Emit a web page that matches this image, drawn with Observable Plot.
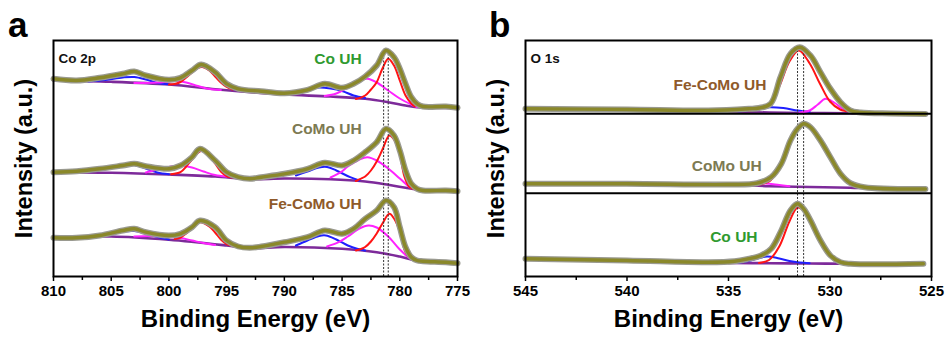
<!DOCTYPE html>
<html><head><meta charset="utf-8">
<script src="https://cdn.jsdelivr.net/npm/d3@7"></script>
<script src="https://cdn.jsdelivr.net/npm/@observablehq/plot@0.6"></script>
<style>
body{margin:0;background:#fff;font-family:"Liberation Sans",Arial,sans-serif;}
#wrap{position:relative;width:947px;height:338px;overflow:hidden;}
.pl{position:absolute;top:0;}
.tag{position:absolute;font-weight:bold;font-size:35px;line-height:35px;color:#000;}
</style></head>
<body><div id="wrap"></div>
<script>
// ---------- Panel a: Co 2p (binding energy eV, intensity a.u.) ----------
const coTicksA = [810, 805, 800, 795, 790, 785, 780, 775];
const coMinorA = [807.5, 802.5, 797.5, 792.5, 787.5, 782.5, 777.5];
const coRefLines = [781.4, 781.0];
// Co UH (top)
const aCo_env = [[810,197.7],[808,196],[806,198.7],[804,202.7],[803,205],[802,201],[800,196.7],[799,198.7],[798,206],[797.2,212],[796,204.3],[795,192.7],[794,187.7],[792,185.3],[790,183.3],[788,186.7],[786.5,192.7],[785,188.7],[784,192.7],[783,200],[782,211],[781.2,226],[780.5,219.3],[780,207.7],[779.5,192.7],[779,179.3],[778.5,172.7],[778,170],[776,170],[775,168.7]];
const aCo_base = [[810,196],[805,194.7],[800,192],[796,187.3],[794,185.3],[790,182],[786,180],[783,177.7],[781,174.3],[779.5,171],[778.5,169.3],[775,168.7]];
const aCo_red = [[783.8,177.5],[783,181],[782.5,187],[782,194.3],[781.5,208],[781,217.7],[780.5,211],[780,196],[779.5,181],[779,173],[778.7,170]];
const aCo_mag = [[786.5,180.5],[785.5,183],[784.5,189],[783.5,196],[782.8,197.7],[782,194],[781,186],[780,178],[779,172],[778.5,169.5]];
const aCo_blue = [[790,182.5],[789,184],[788,187],[787,189],[786,188],[785,185.5],[784,181],[783,178.5]];
const aCo_red2 = [[800,192],[799.5,192.5],[799,194.5],[798.5,199],[798,204],[797.5,208.5],[797.1,209.5],[796.5,206],[796,200],[795.5,194],[795,189.5],[794.5,187]];
const aCo_mag2 = [[803,193.5],[801,194],[800,195],[799.3,195.5],[798.5,194],[797.5,190.5],[796.5,187.5],[795.5,186.5]];
const aCo_blue2 = [[807,195],[805.5,196.5],[804,199],[803,199.5],[802,197],[801,193.5],[800,192.3]];
// CoMo UH (middle)
const aCoMo_env = [[810,104.3],[808,105.3],[806,107.7],[804,111],[803,112.7],[802,110.3],[800,107.7],[799,111],[798,119.3],[797.3,127.7],[796,116],[795,104.3],[794,99.3],[793,97.7],[792,99.3],[790,102.7],[788,107.7],[786.5,113.7],[785,111],[784,116],[783,124.3],[782,134.3],[781.2,147.7],[780.5,141],[780,126],[779.5,106],[779,92.7],[778.5,87.7],[778,86],[776,86],[775,85.3]];
const aCoMo_base = [[810,104.3],[805,103.7],[800,102],[796,100],[793,97.3],[790,98],[786,97.3],[783,95],[781,91.7],[779.5,88.7],[778.5,87],[775,85.5]];
const aCoMo_red = [[783.8,95.5],[783.4,97.7],[783,100],[782.5,106],[782,115],[781.5,127],[780.9,141],[780.5,137],[780,122],[779.6,100],[779.2,90],[778.8,87.5]];
const aCoMo_mag = [[786,99],[785.1,104.3],[784.5,110],[783.5,117],[782.8,119.3],[782,116],[781,108],[780,98],[779.1,89],[778.6,87]];
const aCoMo_blue = [[789,101],[788,105],[787,109],[786.3,109.5],[785.5,106],[784.3,99.3],[783.5,96]];
const aCoMo_red2 = [[799.8,102.3],[799,104.3],[798.5,110],[798,117],[797.5,123.5],[797.1,126],[796.5,121],[796,113],[795.5,105],[795,100.5],[794.5,99]];
const aCoMo_mag2 = [[802,104],[801,107],[800,109.5],[799,111],[798,109],[797,105],[796,101.5],[795,100]];
const aCoMo_blue2 = [[807,104.5],[805.5,107.5],[804,111],[803,111.5],[802,108],[801,104],[800,102.3]];
// Fe-CoMo UH (bottom)
const aFe_env = [[810,38.7],[808,38.7],[806,41],[804,46],[803,47.7],[802,44.3],[800,41],[799,42.7],[798,49.3],[797.3,56],[796,49.3],[795,36],[794,30],[793,28.7],[792,30],[790,34.3],[788,39.3],[786.5,46],[785,42.7],[784,47.7],[783,57.7],[782,66],[781.2,76],[780.5,69.3],[780,49.3],[779.5,29.3],[779,19.3],[778.5,16],[778,15.3],[776,14.3],[775,13.3]];
const aFe_base = [[810,38.7],[805,40],[800,36.7],[795,31],[793,28.3],[790,29.5],[785,27.7],[782,24.3],[780,20],[778.5,16],[775,13.7]];
const aFe_red = [[783.8,26],[783.3,27.7],[783,29.5],[782.5,35],[782,43],[781.5,53],[780.9,62.7],[780.5,58],[780,45],[779.6,27],[779.2,19.5],[778.8,17]];
const aFe_mag = [[786.3,30],[785.3,34.3],[784.5,40],[783.5,48],[782.7,51],[782,49],[781,40],[780,27],[779.1,18],[778.6,16.2]];
const aFe_blue = [[789,31],[788,36],[787,40.5],[786.4,41],[785.5,37],[784.5,31],[783.7,27.7],[783,26]];
const aFe_red2 = [[799.5,37.5],[799,39],[798.5,43],[798,48.5],[797.3,54.3],[796.5,50],[796,44],[795.5,37],[795,32.5],[794.5,31]];
const aFe_mag2 = [[803,40],[801.5,40.5],[800,39.5],[799,38.5],[798,36],[797,33.5],[796,31.5]];
const aFe_blue2 = [[806.5,41],[805,43],[804,45],[803,45.5],[802,43],[801,39.5],[800,37]];
const aLabels = [{x:783.3,y:217,t:"Co UH",c:"#2f9a2f"},{x:783.3,y:147,t:"CoMo UH",c:"#7d7a52"},{x:783.3,y:72,t:"Fe-CoMo UH",c:"#8f5a2a"}];

// ---------- Panel b: O 1s ----------
const oTicksB = [545, 540, 535, 530, 525];
const oMinorB = [542.5, 537.5, 532.5, 527.5];
const oDividers = [83.3, 162.7];
const oRefLines = [531.6, 531.3];
// Fe-CoMo UH (top)
const bFe_env = [[545,167.7],[540,167],[536,166],[534,167.7],[533.5,168.5],[532.93,172.7],[532.44,199.3],[531.95,222.7],[531.49,229.3],[530.96,221],[530.47,204.3],[529.98,187.7],[529.48,174.3],[528.99,166],[528.5,164],[527,163],[525.3,162.5]];
const bFe_base = [[535,164.5],[533,164],[531,163.5],[529,163.2],[528.5,163]];
const bFe_red = [[534,166],[533.5,167.5],[533,171],[532.5,190],[532,215],[531.54,226],[531,213],[530.5,193],[530,175],[529.5,167],[529,165]];
const bFe_mag = [[531.5,164],[531,166],[530.6,172],[530.22,177.7],[529.8,174],[529.4,168],[529,164.5],[528.6,163.5]];
const bFe_blue = [[534.5,165],[533.8,167],[533,169.3],[532.3,168.5],[531.6,166],[531,164.5]];
// CoMo UH (middle)
const bCoMo_env = [[545,92.7],[540,92.7],[535,92],[533.6,93.3],[532.9,99.3],[532.4,112.7],[531.95,136],[531.6,147.7],[531.3,152.7],[530.96,149.3],[530.47,136],[529.98,119.3],[529.48,102.7],[528.99,93.3],[528.3,89.3],[525.3,87.5]];
const bCoMo_base = [[534.5,91.5],[533,90.3],[531,89.5],[529,88.7],[528.3,88.5]];
const bCoMo_red = [[533.5,92],[533,95],[532.5,109],[532,133],[531.5,149],[531.3,151.5],[531,149],[530.5,136],[530,119],[529.5,103],[529,93.5],[528.5,89]];
const bCoMo_mag = [[534,91.8],[533.2,93],[532.5,91.5],[532,90.3]];
// Co UH (bottom)
const bCo_env = [[545,17.7],[540,16],[536,14.3],[534.7,15.3],[534.1,17.3],[533.4,21],[532.9,27.7],[532.4,46],[531.95,66],[531.6,72.7],[531.3,67.7],[530.96,56],[530.47,36],[529.98,21],[529.48,14.3],[528.99,12.7],[525.4,12.7]];
const bCo_base = [[535,13.5],[533,13.3],[531,13],[529,12.7]];
const bCo_red = [[533.5,13.5],[533,16.5],[532.5,30],[532,55],[531.6,69],[531.3,66],[531,56],[530.5,35],[530,20],[529.6,14],[529.3,12.8]];
const bCo_blue = [[534.6,13.5],[534,15.5],[533.1,20],[532.5,18],[532,15.5],[531.5,14],[531,13.3]];
const bLabels = [{x:533.13,y:191,t:"Fe-CoMo UH",c:"#8f5a2a"},{x:533.37,y:110,t:"CoMo UH",c:"#7d7a52"},{x:533.57,y:39,t:"Co UH",c:"#2f9a2f"}];

const COL = {env:"#8a882a", envEdge:"#9a9a90", red:"#ff1414", mag:"#ff22ff", blue:"#1f1fff", base:"#7d2a9a"};
const toPts = a => a.map(([x,y]) => ({x, y}));
const comp = (a, c, w=2) => Plot.line(toPts(a), {x:"x", y:"y", stroke:c, strokeWidth:w, curve:"catmull-rom"});
const env = a => [
  Plot.line(toPts(a), {x:"x", y:"y", stroke:COL.envEdge, strokeWidth:6, curve:"catmull-rom", strokeLinejoin:"round"}),
  Plot.line(toPts(a), {x:"x", y:"y", stroke:COL.env, strokeWidth:3.4, curve:"catmull-rom", strokeLinejoin:"round"})
];
const FONT = "Liberation Sans, Arial, sans-serif";

function panel({width, ml, mr, domain, ticks, minor, refLines, refTop, series, labels, tagText, dividers}) {
  const marks = [];
  for (const s of series) {
    marks.push(comp(s.base, COL.base, 2.6));
    for (const b of s.blue) marks.push(comp(b, COL.blue));
    for (const m of s.mag) marks.push(comp(m, COL.mag));
    for (const r of s.red) marks.push(comp(r, COL.red));
  }
  marks.push(Plot.ruleX(refLines, {x: d => d, y1: 0, y2: refTop, stroke:"#333", strokeWidth:1, strokeDasharray:"2,1.5"}));
  for (const s of series) marks.push(...env(s.env));
  if (dividers) marks.push(Plot.ruleY(dividers, {y: d => d, stroke:"#000", strokeWidth:2}));
  marks.push(Plot.text(labels, {x:"x", y:"y", text:"t", fill:"c", textAnchor:"end", fontSize:15.5, fontWeight:"bold", fontFamily:FONT}));
  marks.push(Plot.text([tagText], {frameAnchor:"top-left", dx:5, dy:13, fontSize:13.5, fontWeight:"bold", fill:"#111", fontFamily:FONT}));
  marks.push(Plot.frame({stroke:"#000", strokeWidth:2}));
  marks.push(Plot.axisX({ticks: minor, tickSize:4, tickFormat: () => "", strokeWidth:1.5, label:null}));
  marks.push(Plot.axisX({ticks, tickSize:5, tickPadding:4, fontSize:15, fontWeight:"bold", fontFamily:FONT, label:null, strokeWidth:1.5}));
  marks.push(Plot.text(["Binding Energy (eV)"], {frameAnchor:"bottom", dy:50, fontSize:24, fontWeight:"bold", fontFamily:FONT, fill:"#000"}));
  marks.push(Plot.text(["Intensity (a.u.)"], {frameAnchor:"left", dx:-29, rotate:-90, textAnchor:"middle", fontSize:23.5, fontWeight:"bold", fontFamily:FONT, fill:"#000"}));
  return Plot.plot({
    width, height:338, marginLeft:ml, marginRight:mr, marginTop:40, marginBottom:62,
    x:{domain, axis:null}, y:{domain:[0,236], axis:null},
    style:{fontFamily:FONT, color:"#000", background:"transparent", overflow:"visible"},
    marks
  });
}

const wrap = document.getElementById("wrap");
const pa = panel({
  width:480, ml:53, mr:23, domain:[810,775], ticks:coTicksA, minor:coMinorA, refLines:coRefLines, refTop:226, tagText:"Co 2p",
  labels:aLabels,
  series:[
    {env:aCo_env, base:aCo_base, red:[aCo_red,aCo_red2], mag:[aCo_mag,aCo_mag2], blue:[aCo_blue,aCo_blue2]},
    {env:aCoMo_env, base:aCoMo_base, red:[aCoMo_red,aCoMo_red2], mag:[aCoMo_mag,aCoMo_mag2], blue:[aCoMo_blue,aCoMo_blue2]},
    {env:aFe_env, base:aFe_base, red:[aFe_red,aFe_red2], mag:[aFe_mag,aFe_mag2], blue:[aFe_blue,aFe_blue2]}
  ]
});
pa.classList.add("pl"); pa.style.left = "0px";
const pb = panel({
  width:467, ml:45, mr:16, domain:[545,525], ticks:oTicksB, minor:oMinorB, refLines:oRefLines, refTop:229, tagText:"O 1s",
  labels:bLabels, dividers:oDividers,
  series:[
    {env:bFe_env, base:bFe_base, red:[bFe_red], mag:[bFe_mag], blue:[bFe_blue]},
    {env:bCoMo_env, base:bCoMo_base, red:[bCoMo_red], mag:[bCoMo_mag], blue:[]},
    {env:bCo_env, base:bCo_base, red:[bCo_red], mag:[], blue:[bCo_blue]}
  ]
});
pb.classList.add("pl"); pb.style.left = "480px";
wrap.append(pa, pb);
const ta = document.createElement("div"); ta.className="tag"; ta.textContent="a"; ta.style.left="8px"; ta.style.top="7px";
const tb = document.createElement("div"); tb.className="tag"; tb.textContent="b"; tb.style.left="489px"; tb.style.top="7px";
wrap.append(ta, tb);
</script></body></html>
